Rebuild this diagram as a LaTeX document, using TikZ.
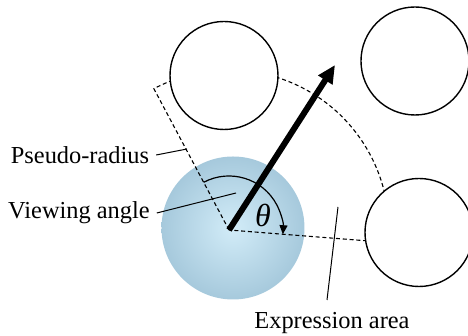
\documentclass[tikz,border=0pt]{standalone}
\usepackage{fontspec}
\setmainfont{Liberation Serif}
\definecolor{eyein}{RGB}{210,236,248}
\definecolor{eyeout}{RGB}{166,201,220}
\usetikzlibrary{arrows.meta}

\begin{document}
\begin{tikzpicture}[x=0.5pt,y=0.5pt,font=\fontsize{12.2}{14}\selectfont,
  other/.style={circle,draw,line width=0.7pt,fill=white,minimum size=54pt,inner sep=0pt},
  eyeball/.style={circle,inner color=eyein,outer color=eyeout,minimum size=71.5pt,inner sep=0pt},
  area/.style={line width=0.55pt,dash pattern=on 2pt off 1.4pt},
  leader/.style={line width=0.5pt}]
\useasboundingbox (0,0) rectangle (468,336);
\node[eyeball] (eye) at (233,108) {};
\coordinate (O) at (229,106);
\draw[area] (O) -- ++(118:160) arc[start angle=118,end angle=-4.5,radius=160] -- cycle;
\node[other] (tl) at (224,260.5) {};
\node[other] (tr) at (415,275) {};
\node[other] (br) at (419,103.5) {};
% viewing angle
\draw[line width=0.6pt,-{Triangle[length=4.5pt,width=4pt]}] (O) ++(118:54)
   arc[start angle=118,end angle=-4.5,radius=54];
\coordinate (tip) at (335,271);
\draw[line width=3pt,-{Triangle[length=9pt,width=8pt]}] (O) -- (tip);
\node[font=\fontsize{16}{18}\selectfont] (theta) at (263,121) {\textit{θ}};
\node (psr) at (80,181) {Pseudo-radius};
\node (view) at (79,123) {Viewing angle};
\node (expr) at (332,13) {Expression area};
\coordinate (prend) at (187,187);
\coordinate (vaend) at (236,143);
\coordinate (exstart) at (327,36);
\coordinate (exend) at (338,129);
\draw[leader] (psr.east) -- (prend);
\draw[leader] (view.east) -- (vaend);
\draw[leader] (exstart) -- (exend);
\end{tikzpicture}
\end{document}
